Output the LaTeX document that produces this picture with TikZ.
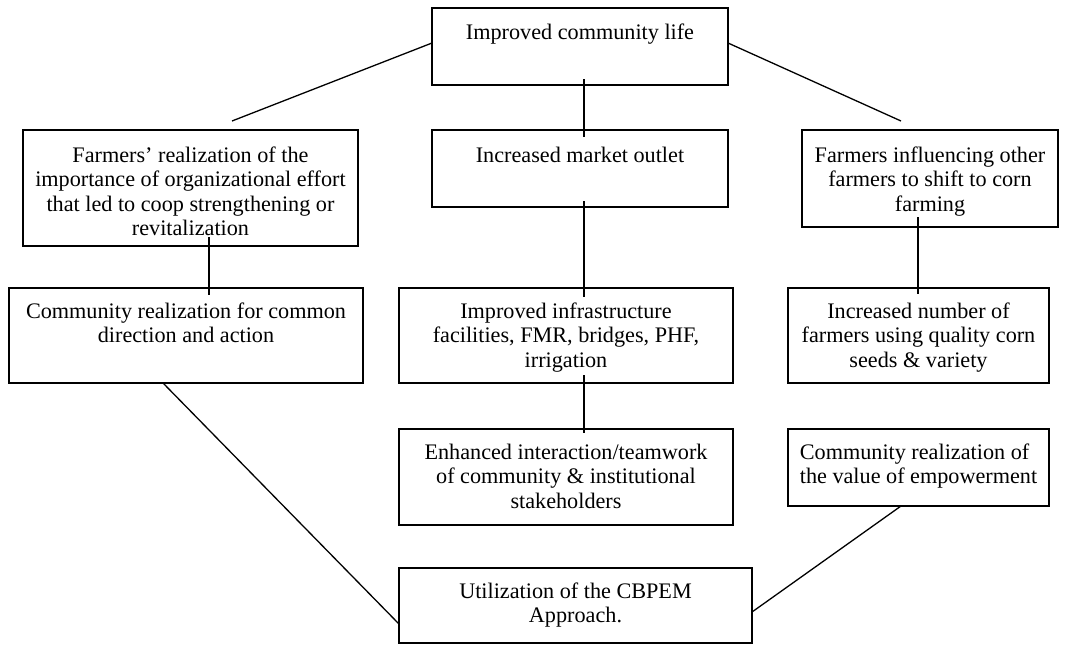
\documentclass[tikz,border=0pt]{standalone}
\usepackage{fontspec}
\setmainfont{Liberation Serif}
\usetikzlibrary{calc}
\tikzset{
  boxst/.style={draw, line width=1.8pt, inner sep=0pt, outer sep=0pt, font=\fontsize{22.2}{24.5}\selectfont},
  conn/.style={line width=1.3pt}
}
% #1 name, #2 left, #3 top, #4 right, #5 bottom, #6 first baseline, #7 text
\newcommand\mybox[7]{%
  \node[boxst, minimum width={#4-#2}, minimum height={#5-#3}] (#1) at ({(#2+#4)/2},{(#3+#5)/2})
    {\parbox[c][\dimexpr#5pt-#3pt\relax][t]{\dimexpr#4pt-#2pt\relax}{\centering\rule{0pt}{#6pt}#7\par}};%
}
\begin{document}
\begin{tikzpicture}[x=1pt,y=-1pt]
\fill[white] (0,0) rectangle (1075,645);
\useasboundingbox (0,0) rectangle (1075,645);

\mybox{top}{432}{8}{728}{85}{31}{Improved community life}
\mybox{farm}{23}{130}{358}{246}{32}{Farmers’ realization of the\\importance of organizational effort\\that led to coop strengthening or\\revitalization}
\mybox{market}{432}{130}{728}{207}{32}{Increased market outlet}
\mybox{influ}{802}{130}{1058}{227}{32}{Farmers influencing other\\farmers to shift to corn\\farming}
\mybox{comm}{9}{288}{363}{383}{30}{Community realization for common\\direction and action}
\mybox{infra}{399}{288}{733}{383}{30}{Improved infrastructure\\facilities, FMR, bridges, PHF,\\irrigation}
\mybox{incr}{788}{288}{1049}{383}{30}{Increased number of\\farmers using quality corn\\seeds \& variety}
\mybox{enh}{399}{429}{733}{525}{30}{Enhanced interaction/teamwork\\of community \& institutional\\stakeholders}
\mybox{emp}{788}{429}{1049}{506}{30}{\begin{tabular}[t]{@{}l@{}}Community realization of\\the value of empowerment\end{tabular}}
\mybox{util}{399}{568}{752}{643}{30}{Utilization of the CBPEM\\Approach.}

\coordinate (tl) at (232,121);
\coordinate (tr) at (901,121);
\draw[conn] ($(top.west)+(0,-3.5)$) -- (tl);
\draw[conn] ($(top.east)+(0,-3.5)$) -- (tr);
\draw[conn] ($(top.south)+(4,-6)$) -- ($(market.north)+(4,7)$);
\draw[conn] ($(market.south)+(4,-6)$) -- ($(infra.north)+(18,9)$);
\draw[conn] ($(farm.south west)+(186,-9)$) -- ($(comm.north west)+(200,7)$);
\draw[conn] ($(influ.south west)+(116,-10)$) -- ($(incr.north west)+(130,6)$);
\draw[conn] ($(infra.south)+(18,-8)$) -- ($(enh.north)+(18,4)$);
\draw[conn] ($(comm.south west)+(154,0)$) -- ($(util.west)+(0,18.5)$);
\draw[conn] ($(emp.south west)+(113,0)$) -- ($(util.east)+(0,6.5)$);
\end{tikzpicture}
\end{document}
